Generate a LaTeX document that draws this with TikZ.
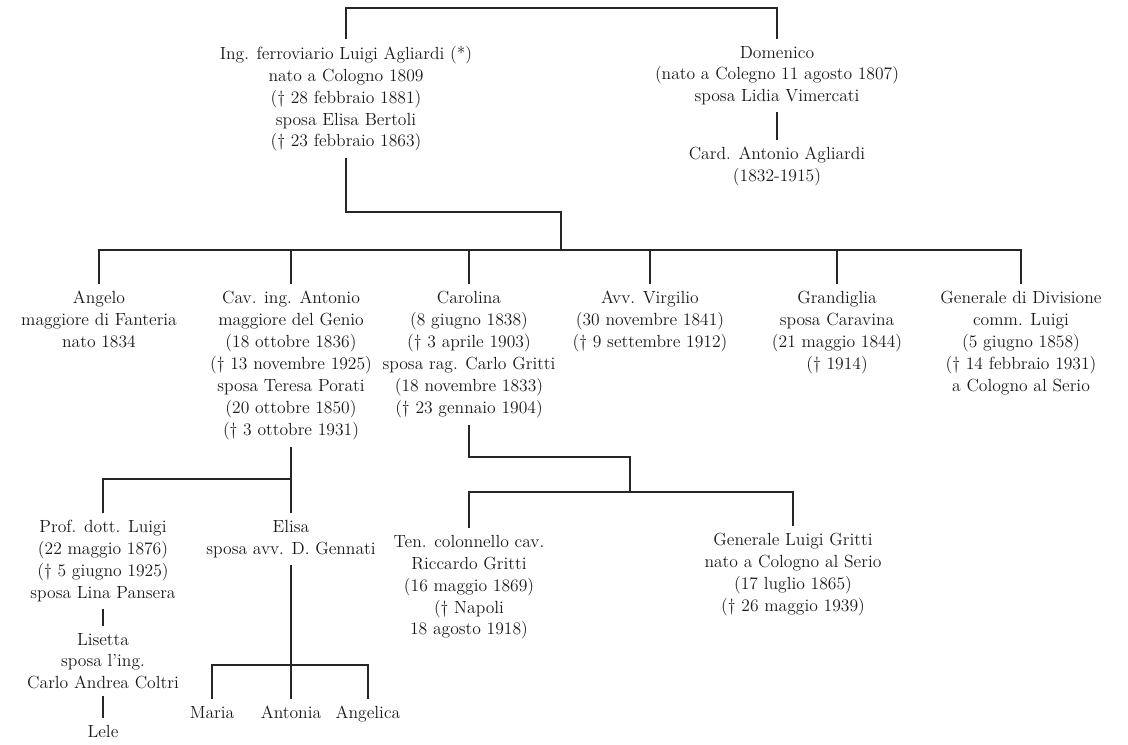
\documentclass[tikz,border=0pt]{standalone}
\usepackage{fontspec}

\begin{document}
\begin{tikzpicture}[
        x=0.025cm, y=-0.025cm,
    every path/.style={line width=1.4pt},
    every node/.style={anchor=north, align=center, inner sep=0pt, outer sep=5pt,
        text=black!90, font=\fontsize{12.5}{15.6}\selectfont\addfontfeatures{FakeBold=0.6}},
    bar/.style={line width=2pt}
]
    \colorlet{ink}{black!85}
    \path [fill=white] (0,0) rectangle (1128,744);

    \coordinate (tb) at (0,8);
    \coordinate (lj) at (561,212);
    \coordinate (mb) at (0,250);
    \coordinate (ab) at (0,479);
    \coordinate (cj) at (630,457);
    \coordinate (gb) at (0,492);
    \coordinate (eb) at (0,665);

    \node (lui) at (346,39) {Ing. ferroviario Luigi Agliardi (*)\\
        nato a Cologno 1809\\ (\textdagger\ 28 febbraio 1881)\\
        sposa Elisa Bertoli\\ (\textdagger\ 23 febbraio 1863)};
    \node (dom) at (777,39) {Domenico\\ (nato a Colegno 11 agosto 1807)\\
        sposa Lidia Vimercati};
    \node (card) at (777,140) {Card. Antonio Agliardi\\ (1832-1915)};

    \node (ang) at (99,284) {Angelo\\ maggiore di Fanteria\\ nato 1834};
    \node (ant) at (291,284) {Cav. ing. Antonio\\ maggiore del Genio\\
        (18 ottobre 1836)\\ (\textdagger\ 13 novembre 1925)\\
        sposa Teresa Porati\\ (20 ottobre 1850)\\ (\textdagger\ 3 ottobre 1931)};
    \node (car) at (469,284) {Carolina\\ (8 giugno 1838)\\
        (\textdagger\ 3 aprile 1903)\\ sposa rag. Carlo Gritti\\
        (18 novembre 1833)\\ (\textdagger\ 23 gennaio 1904)};
    \node (vir) at (650,284) {Avv. Virgilio\\ (30 novembre 1841)\\
        (\textdagger\ 9 settembre 1912)};
    \node (gra) at (837,284) {Grandiglia\\ sposa Caravina\\
        (21 maggio 1844)\\ (\textdagger\ 1914)};
    \node (gen) at (1021,284) {Generale di Divisione\\ comm. Luigi\\
        (5 giugno 1858)\\ (\textdagger\ 14 febbraio 1931)\\ a Cologno al Serio};

    \node (prof) at (103,513) {Prof. dott. Luigi\\ (22 maggio 1876)\\
        (\textdagger\ 5 giugno 1925)\\ sposa Lina Pansera};
    \node (eli) at (291,513) {Elisa\\ sposa avv. D. Gennati};
    \node (lis) at (103,626) {Lisetta\\ sposa l'ing.\\ Carlo Andrea Coltri};
    \node (lele) at (103,718) {Lele};
    \node (mar) at (212,699) {Maria};
    \node (anto) at (291,699) {Antonia};
    \node (angl) at (368,699) {Angelica};

    \node (ric) at (469,528) {Ten. colonnello cav.\\ Riccardo Gritti\\
        (16 maggio 1869)\\ (\textdagger\ Napoli\\ 18 agosto 1918)};
    \node (gri) at (793,526) {Generale Luigi Gritti\\ nato a Cologno al Serio\\
        (17 luglio 1865)\\ (\textdagger\ 26 maggio 1939)};

    \draw [ink,bar] (lui.north) -- (lui.north |- tb)
        -- (dom.north |- tb) -- (dom.north);
    \draw [ink] (dom.south) -- (card.north);
    \draw [ink] (lui.south) |- (lj) -- (lj |- mb);

    \draw [ink,bar] (ang.north) -- (ang.north |- mb)
        -- (gen.north |- mb) -- (gen.north);
    \foreach \k in {ant,car,vir,gra}
        \draw [ink] (\k.north) -- (\k.north |- mb);

    \draw [ink] (ant.south) -- (ant.south |- ab);
    \draw [ink] (prof.north) -- (prof.north |- ab)
        -- (eli.north |- ab) -- (eli.north);
    \draw [ink] (prof.south) -- (lis.north);
    \draw [ink] (lis.south) -- (lele.north);

    \draw [ink] (eli.south) -- (eli.south |- eb);
    \draw [ink] (mar.north) -- (mar.north |- eb)
        -- (angl.north |- eb) -- (angl.north);
    \draw [ink] (anto.north) -- (anto.north |- eb);

    \draw [ink] (car.south) |- (cj) -- (cj |- gb);
    \draw [ink,bar] (ric.north) -- (ric.north |- gb)
        -- (gri.north |- gb) -- (gri.north);
\end{tikzpicture}
\end{document}
